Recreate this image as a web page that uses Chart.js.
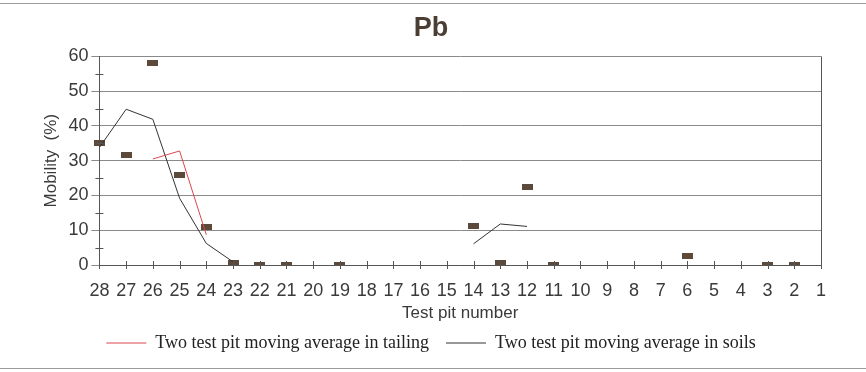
<!DOCTYPE html>
<html>
<head>
<meta charset="utf-8">
<script src="https://cdn.jsdelivr.net/npm/chart.js@4.4.1/dist/chart.umd.min.js"></script>
<style>
  html, body { margin: 0; padding: 0; background: #fff; }
  #wrap { position: relative; width: 866px; height: 372px; }
  #c { position: absolute; left: 0; top: 0; }
  .frame { position: absolute; left: 0; width: 866px; height: 0; border-top: 1px solid #9a9a9a; }
</style>
</head>
<body>
<div id="wrap">
  <canvas id="c" width="866" height="372"></canvas>
  <div class="frame" style="top:3px"></div>
  <div class="frame" style="top:368px"></div>
</div>
<script>
// Test pit numbers (x axis categories)
const categories = ['28','27','26','25','24','23','22','21','20','19','18','17','16','15','14','13','12','11','10','9','8','7','6','5','4','3','2','1'];
// Measured mobility (%) per test pit
const mobility = [35, 31.5, 58, 26, 11, 0.5, 0, 0, null, 0, null, null, null, null, 11.3, 0.5, 22.5, 0, null, null, null, null, 2.6, null, null, 0, 0, null];
// Two test pit moving average in tailing
const avgTailing = [null, null, 30.5, 32.8, 8.7, null, null, null, null, null, null, null, null, null, null, null, null, null, null, null, null, null, null, null, null, null, null, null];
// Two test pit moving average in soils
const avgSoils = [33.8, 44.8, 41.9, 19.2, 6.2, 0.9, null, null, null, null, null, null, null, null, 6.1, 11.8, 11.1, null, null, null, null, null, null, null, null, null, null, null];
const yTicks = [0, 10, 20, 30, 40, 50, 60];

const marker = document.createElement('canvas');
marker.width = 11; marker.height = 6;
{
  const m = marker.getContext('2d');
  m.fillStyle = '#5b4a3c';
  m.fillRect(0, 0, 11, 6);
}

const frameTicks = {
  id: 'frameTicks',
  afterDatasetsDraw(chart) {
    const ctx = chart.ctx, a = chart.chartArea;
    const xs = chart.scales.x, ys = chart.scales.y;
    ctx.save();
    ctx.strokeStyle = '#555';
    ctx.lineWidth = 1;
    ctx.beginPath();
    ctx.moveTo(a.right + 0.5, a.top);
    ctx.lineTo(a.right + 0.5, a.bottom);
    xs.ticks.forEach((t, i) => {
      const px = Math.round(xs.getPixelForTick(i)) + 0.5;
      ctx.moveTo(px, a.bottom - 4);
      ctx.lineTo(px, a.bottom + 4);
    });
    for (let v = 5; v < 60; v += 10) {
      const py = Math.round(ys.getPixelForValue(v)) + 0.5;
      ctx.moveTo(a.left - 4, py);
      ctx.lineTo(a.left + 4, py);
    }
    ctx.stroke();
    ctx.restore();
  }
};

new Chart(document.getElementById('c'), {
  type: 'line',
  data: {
    labels: categories,
    datasets: [
      { label: 'Two test pit moving average in tailing', data: avgTailing, borderColor: '#d9474c', backgroundColor: '#d9474c', borderWidth: 1, pointRadius: 0, spanGaps: false },
      { label: 'Two test pit moving average in soils', data: avgSoils, borderColor: '#333333', backgroundColor: '#333333', borderWidth: 1, pointRadius: 0, spanGaps: false },
      { label: 'Mobility', data: mobility, showLine: false, pointStyle: marker, pointRadius: 5, pointHoverRadius: 5, borderColor: '#5b4a3c', backgroundColor: '#5b4a3c' }
    ]
  },
  options: {
    responsive: false,
    animation: false,
    events: [],
    layout: { padding: { left: 41, right: 45, top: 6, bottom: 10 } },
    plugins: {
      title: { display: true, text: 'Pb', color: '#4a3d33', font: { family: 'Liberation Sans', size: 27, weight: 'bold' }, padding: { top: 6, bottom: 12 } },
      legend: {
        position: 'bottom',
        labels: {
          filter: (item) => item.datasetIndex < 2,
          usePointStyle: true,
          pointStyle: 'line',
          pointStyleWidth: 40,
          boxHeight: 8,
          color: '#222',
          padding: 17,
          font: { family: 'Liberation Serif', size: 18 }
        }
      },
      tooltip: { enabled: false }
    },
    scales: {
      x: {
        type: 'category',
        offset: false,
        grid: { display: false },
        border: { display: true, color: '#555' },
        ticks: { color: '#3a3a3a', font: { family: 'Liberation Sans', size: 18 }, maxRotation: 0, autoSkip: false, padding: 7 },
        title: { display: true, text: 'Test pit number', color: '#3a3a3a', font: { family: 'Liberation Sans', size: 17 }, padding: { top: -5, bottom: -7 } }
      },
      y: {
        min: 0, max: 60,
        afterBuildTicks: (s) => { s.ticks = yTicks.map(v => ({ value: v })); },
        grid: { color: '#8a8a8a', tickLength: 8, drawTicks: true },
        border: { display: true, color: '#555' },
        ticks: { color: '#3a3a3a', font: { family: 'Liberation Sans', size: 18 }, padding: 3 },
        title: { display: true, text: 'Mobility  (%)', color: '#3a3a3a', font: { family: 'Liberation Sans', size: 17 }, padding: { top: 0, bottom: 4 } }
      }
    }
  },
  plugins: [frameTicks]
});
</script>
</body>
</html>
